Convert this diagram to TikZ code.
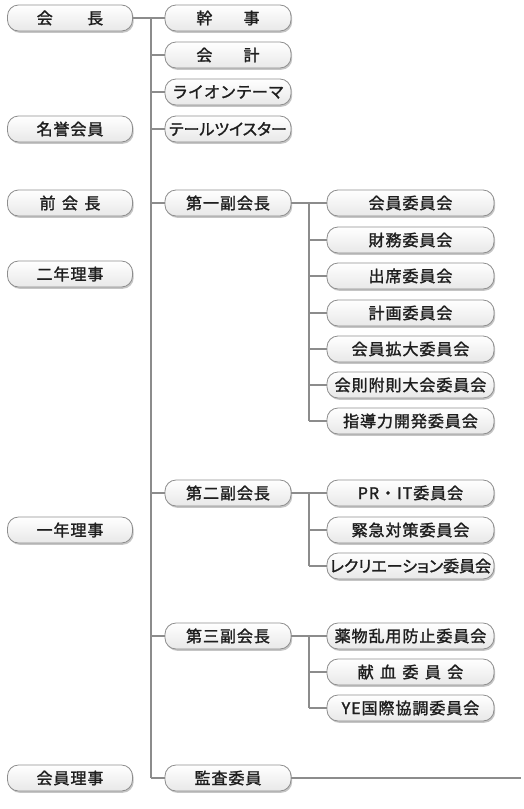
\documentclass[tikz,border=0pt]{standalone}
\usepackage{fontspec}
\newfontfamily\jp[FakeBold=1.6,LetterSpace=6]{Noto Sans CJK JP}
\newfontfamily\jpk[FakeBold=1.6]{Noto Sans CJK JP}
\newfontfamily\jpp[FakeBold=1.6,RawFeature=+palt]{Noto Sans CJK JP}
\usetikzlibrary{shadows}
\definecolor{linegray}{HTML}{8C8C8C}
\definecolor{boxedge}{HTML}{8E8E8E}
\definecolor{txt}{HTML}{1E1E1E}
\begin{document}
\begin{tikzpicture}[x=1pt,y=1pt,
  box/.style={draw=boxedge, line width=0.8pt, rounded corners=11pt,
    minimum height=26pt, inner sep=0pt, top color=white, bottom color=gray!18,
    drop shadow={shadow xshift=1.2pt, shadow yshift=-1.8pt, opacity=0.45, fill=gray},
    font=\jp\fontsize{16}{16}\selectfont, text=txt},
  lbox/.style={box, minimum width=125pt},
  mbox/.style={box, minimum width=126pt},
  rbox/.style={box, minimum width=167pt},
  kana/.style={font=\jpp\fontsize{16}{16}\selectfont},
  kanafull/.style={font=\jpk\fontsize{16}{16}\selectfont},
  conn/.style={draw=linegray, line width=1.4pt}]
\useasboundingbox (0,0) rectangle (524,-809);
\fill[white] (0,0) rectangle (524,-809);

% left column
\node[lbox] (kaicho) at (70,-18) {会\hspace{2.15em}長};
\node[lbox] (meiyo) at (70,-129) {名誉会員};
\node[lbox] (zen) at (70,-203) {前\hspace{0.4em}会\hspace{0.4em}長};
\node[lbox] (ninen) at (70,-274) {二年理事};
\node[lbox] (ichinen) at (70,-530) {一年理事};
\node[lbox] (kaiinriji) at (70,-778) {会員理事};

% middle column
\node[mbox] (kanji) at (228,-18) {幹\hspace{1.95em}事};
\node[mbox] (kaikei) at (228,-55) {会\hspace{1.95em}計};
\node[mbox,kanafull] (lion) at (228,-92) {ライオンテーマ};
\node[mbox,kana] (tail) at (228,-129) {テールツイスター};
\node[mbox] (fuku1) at (228,-203) {第一副会長};
\node[mbox] (fuku2) at (228,-493) {第二副会長};
\node[mbox] (fuku3) at (228,-636) {第三副会長};
\node[mbox] (kansa) at (228,-778) {監査委員};

% right column
\node[rbox] (r1) at (410.5,-203) {会員委員会};
\node[rbox] (r2) at (410.5,-240) {財務委員会};
\node[rbox] (r3) at (410.5,-276) {出席委員会};
\node[rbox] (r4) at (410.5,-313) {計画委員会};
\node[rbox] (r5) at (410.5,-349) {会員拡大委員会};
\node[rbox] (r6) at (410.5,-385) {会則附則大会委員会};
\node[rbox] (r7) at (410.5,-421) {指導力開発委員会};
\node[rbox] (s1) at (410.5,-493) {PR・IT委員会};
\node[rbox] (s2) at (410.5,-530) {緊急対策委員会};
\node[rbox,kana] (s3) at (410.5,-566) {レクリエーション委員会};
\node[rbox] (t1) at (410.5,-636) {薬物乱用防止委員会};
\node[rbox] (t2) at (410.5,-672) {献\hspace{0.4em}血\hspace{0.4em}委\hspace{0.4em}員\hspace{0.4em}会};
\node[rbox] (t3) at (410.5,-708) {YE国際協調委員会};

% main trunk
\coordinate (trunk) at (151,0);
\coordinate (kansaend) at (521,-778);
\draw[conn] (kaicho.east) -- (kanji.west);
\draw[conn] (trunk |- kanji.west) -- (trunk |- kansa.west);
\foreach \n in {kaikei,lion,tail,fuku1,fuku2,fuku3,kansa}
  \draw[conn] (trunk |- \n.west) -- (\n.west);
\draw[conn] (kansa.east) -- (kansaend);

% sub trunks
\coordinate (sub) at (309,0);
\draw[conn] (fuku1.east) -- (r1.west);
\draw[conn] (sub |- r1.west) -- (sub |- r7.west);
\foreach \n in {r2,r3,r4,r5,r6,r7}
  \draw[conn] (sub |- \n.west) -- (\n.west);
\draw[conn] (fuku2.east) -- (s1.west);
\draw[conn] (sub |- s1.west) -- (sub |- s3.west);
\foreach \n in {s2,s3}
  \draw[conn] (sub |- \n.west) -- (\n.west);
\draw[conn] (fuku3.east) -- (t1.west);
\draw[conn] (sub |- t1.west) -- (sub |- t3.west);
\foreach \n in {t2,t3}
  \draw[conn] (sub |- \n.west) -- (\n.west);
\end{tikzpicture}
\end{document}
